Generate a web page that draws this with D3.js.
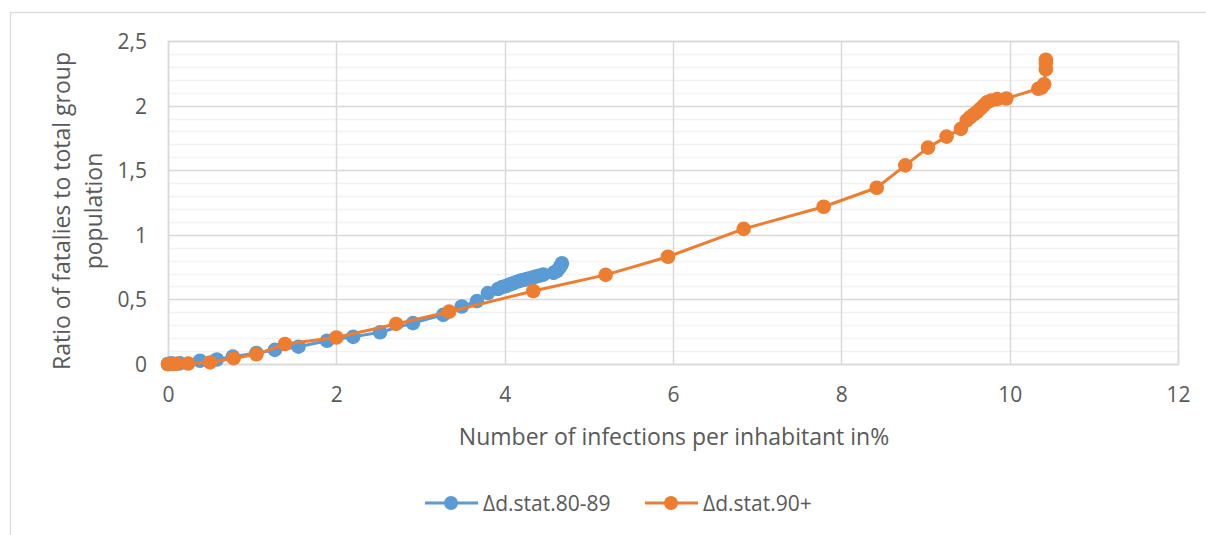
<!DOCTYPE html>
<html><head><meta charset="utf-8">
<script src="https://cdn.jsdelivr.net/npm/d3@7"></script>
<style>body{margin:0;background:#fff}svg{display:block}text{font-family:"Open Sans",sans-serif;fill:#595959}</style>
</head><body><svg id="c" width="1206" height="535"></svg>
<script>
const seriesNames = ["Δd.stat.80-89", "Δd.stat.90+"];
const blueX = [0, 0.04, 0.14, 0.38, 0.58, 0.77, 1.05, 1.27, 1.55, 1.89, 2.2, 2.52, 2.91, 3.27, 3.49, 3.67, 3.8, 3.92, 3.97, 4.02, 4.06, 4.1, 4.14, 4.18, 4.22, 4.26, 4.3, 4.34, 4.38, 4.42, 4.46, 4.58, 4.62, 4.65, 4.67, 4.68];
const blueY = [0, 0.005, 0.005, 0.025, 0.035, 0.057, 0.085, 0.109, 0.134, 0.18, 0.21, 0.246, 0.316, 0.38, 0.445, 0.487, 0.549, 0.58, 0.595, 0.605, 0.615, 0.625, 0.635, 0.643, 0.65, 0.657, 0.664, 0.671, 0.678, 0.685, 0.692, 0.705, 0.72, 0.745, 0.765, 0.78];
const orangeX = [0, 0.02, 0.06, 0.1, 0.24, 0.5, 0.78, 1.05, 1.39, 2.0, 2.71, 3.34, 4.34, 5.2, 5.94, 6.84, 7.79, 8.42, 8.76, 9.03, 9.25, 9.42, 9.49, 9.53, 9.57, 9.61, 9.65, 9.69, 9.73, 9.78, 9.85, 9.96, 10.34, 10.38, 10.41, 10.43, 10.43, 10.43];
const orangeY = [0, 0, 0, 0.002, 0.004, 0.012, 0.045, 0.075, 0.155, 0.205, 0.31, 0.405, 0.565, 0.69, 0.83, 1.046, 1.217, 1.364, 1.537, 1.675, 1.76, 1.82, 1.885, 1.91, 1.93, 1.95, 1.975, 2.0, 2.025, 2.04, 2.05, 2.055, 2.13, 2.14, 2.165, 2.28, 2.33, 2.355];
const xTicks = [0, 2, 4, 6, 8, 10, 12];
const yTicks = [0, 0.5, 1, 1.5, 2, 2.5];
const yMinor = d3.range(0, 2.5001, 0.1);
const xTitle = "Number of infections per inhabitant in%";
const yTitleLines = ["Ratio of fatalies to total group", "population"];
const colors = ["#5B9BD5", "#ED7D31"];

const svg = d3.select("#c");
const L = 168, R = 1178, T = 41, B = 364;
const x = d3.scaleLinear().domain([0, 12]).range([L, R]);
const y = d3.scaleLinear().domain([0, 2.5]).range([B, T]);

// chart border
svg.append("rect").attr("x", 10.5).attr("y", 12.5).attr("width", 1300).attr("height", 600)
  .attr("fill", "#fff").attr("stroke", "#d9d9d9").attr("stroke-width", 1.3);

// minor grid
svg.append("g").selectAll("line").data(yMinor).join("line")
  .attr("x1", L).attr("x2", R).attr("y1", d => Math.round(y(d)) + 0.5).attr("y2", d => Math.round(y(d)) + 0.5)
  .attr("stroke", "#f2f2f2").attr("stroke-width", 1.5);
// major grid
svg.append("g").selectAll("line").data(yTicks).join("line")
  .attr("x1", L).attr("x2", R).attr("y1", d => Math.round(y(d)) + 0.5).attr("y2", d => Math.round(y(d)) + 0.5)
  .attr("stroke", "#d9d9d9").attr("stroke-width", 1.5);
svg.append("g").selectAll("line").data(xTicks).join("line")
  .attr("y1", T).attr("y2", B).attr("x1", d => Math.round(x(d)) + 0.5).attr("x2", d => Math.round(x(d)) + 0.5)
  .attr("stroke", "#d9d9d9").attr("stroke-width", 1.5);
svg.append("rect").attr("x", L + 0.5).attr("y", T + 0.5).attr("width", R - L).attr("height", B - T)
  .attr("fill", "none").attr("stroke", "#d9d9d9").attr("stroke-width", 1.5);

// axes labels via d3 axes
const fmt = d => d3.format("")(d).replace(".", ",");
const xa = svg.append("g").attr("transform", `translate(0,${B})`)
  .call(d3.axisBottom(x).tickValues(xTicks).tickFormat(fmt).tickSize(0).tickPadding(38));
const ya = svg.append("g").attr("transform", `translate(${L},0)`)
  .call(d3.axisLeft(y).tickValues(yTicks).tickFormat(fmt).tickSize(0).tickPadding(21));
[xa, ya].forEach(a => { a.select(".domain").remove(); a.selectAll("text").attr("font-size", 21).attr("font-family", "Open Sans").attr("fill", "#595959"); });
xa.selectAll("text").attr("dy", "0");
ya.selectAll("text").attr("dy", "0.36em");

// titles
svg.append("text").attr("x", (L + R) / 2 + 1).attr("y", 445).attr("text-anchor", "middle")
  .attr("font-size", 23).text(xTitle);
const yt = svg.append("text").attr("transform", "translate(0,211) rotate(-90)").attr("text-anchor", "middle").attr("font-size", 23);
yTitleLines.forEach((t, i) => yt.append("tspan").attr("x", 0).attr("y", 70 + i * 32).text(t));

// series
const sets = [[blueX, blueY], [orangeX, orangeY]];
const line = d3.line().x(d => x(d[0])).y(d => y(d[1]));
sets.forEach((s, i) => {
  const pts = s[0].map((v, j) => [v, s[1][j]]);
  const g = svg.append("g");
  g.append("path").attr("d", line(pts)).attr("fill", "none").attr("stroke", colors[i])
    .attr("stroke-width", 3).attr("stroke-linejoin", "round");
  g.selectAll("circle").data(pts).join("circle").attr("cx", d => x(d[0])).attr("cy", d => y(d[1]))
    .attr("r", 7.3).attr("fill", colors[i]);
});

// legend
const legX = [425, 645];
seriesNames.forEach((n, i) => {
  const g = svg.append("g").attr("transform", `translate(${legX[i]},503)`);
  g.append("line").attr("x1", 0).attr("x2", 53).attr("stroke", colors[i]).attr("stroke-width", 3);
  g.append("circle").attr("cx", 26).attr("r", 7).attr("fill", colors[i]);
  g.append("text").attr("x", 58).attr("y", 0).attr("dy", "0.36em").attr("font-size", 21).text(n);
});
</script></body></html>
